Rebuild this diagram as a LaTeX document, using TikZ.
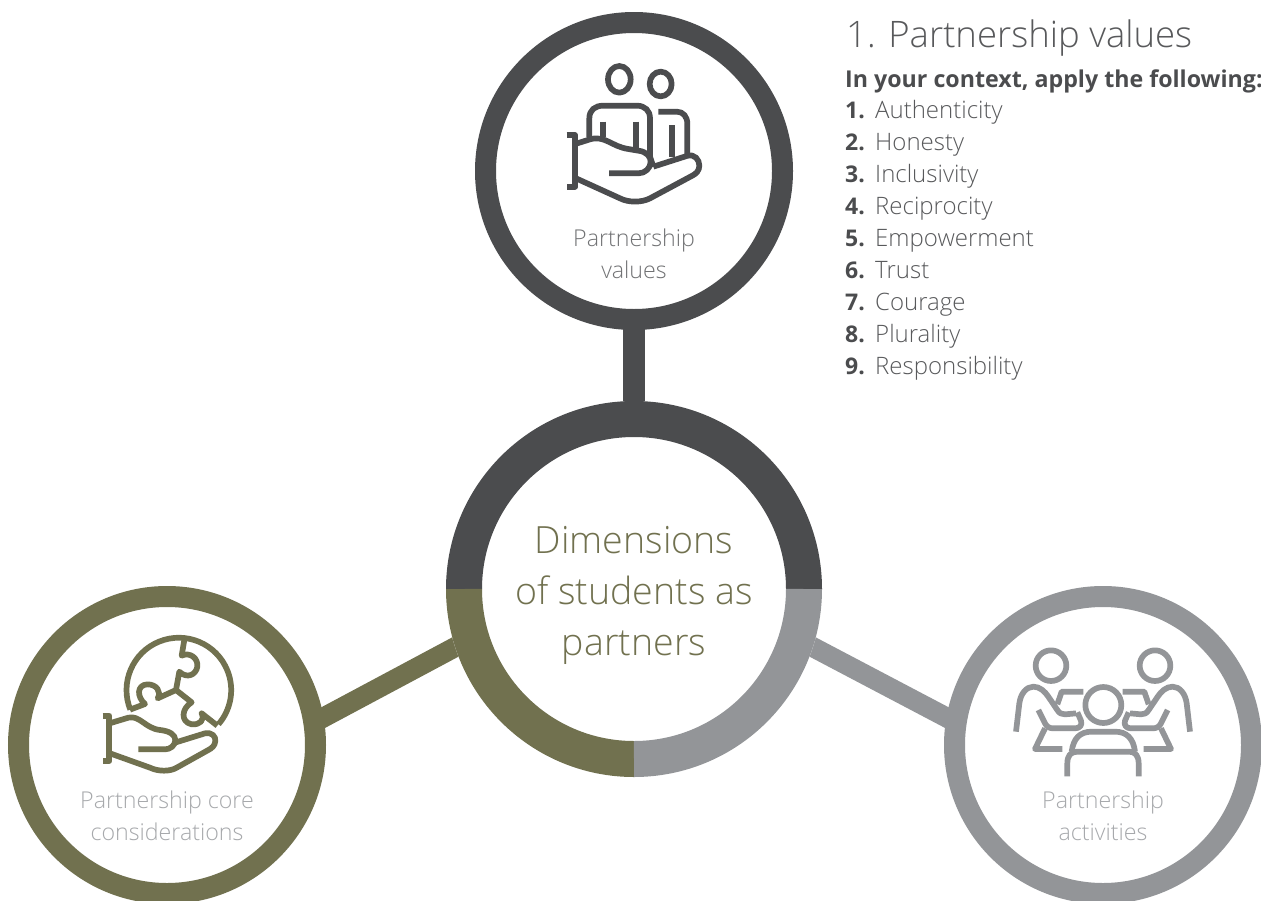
\documentclass[tikz,border=0pt]{standalone}
\usepackage{fontspec}
\setmainfont[UprightFont={Open Sans Light},BoldFont={Open Sans Bold}]{Open Sans}
\usetikzlibrary{backgrounds}
\definecolor{dark}{HTML}{4B4C4E}
\definecolor{olive}{HTML}{71714F}
\definecolor{midgrey}{HTML}{939598}
\definecolor{txtgrey}{HTML}{58595B}
\definecolor{ltgrey}{HTML}{A7A9AC}
\newcommand{\fs}[2]{\fontsize{#1}{#2}\selectfont}
\tikzset{
  ringnode/.style={circle,draw=#1,line width=21pt,fill=white,minimum size=297pt,inner sep=0pt},
  linknode/.style={line width=#1,shorten >=-4pt,shorten <=-4pt},
  hubring/.style={line width=36pt,line cap=butt},
  iconline/.style={line width=5.7pt,line cap=butt,line join=round,draw=#1},
  ringlabel/.style={align=center,font=\fs{23.2}{32},text=#1},
  listitem/.style={anchor=base west,font=\fs{24}{28},text=txtgrey,inner sep=0pt},
  listnum/.style={anchor=base west,font=\fs{23}{28}\bfseries,text=dark,inner sep=0pt}
}
\begin{document}
\begin{tikzpicture}[x=1pt,y=-1pt]
\useasboundingbox (0,0) rectangle (1261,900);
% nodes
\node[circle,fill=white,minimum size=376pt,inner sep=0pt,outer sep=0pt] (hub) at (634,589) {};
\node[ringnode=dark] (values) at (634,171) {};
\node[ringnode=olive] (core) at (167,745) {};
\node[ringnode=midgrey] (activities) at (1103,745) {};
% connectors
\begin{scope}[on background layer]
\draw[linknode=22pt,dark] (values.south) -- (hub.north);
\draw[linknode=20pt,olive] (hub.198.4) -- (core.10);
\draw[linknode=20pt,midgrey] (hub.-18.4) -- (activities.170);
\end{scope}
% hub ring
\draw[hubring,dark] (464,589) arc[start angle=180,delta angle=180,radius=170];
\draw[hubring,olive] (634,759) arc[start angle=90,delta angle=90,radius=170];
\draw[hubring,midgrey] (804,589) arc[start angle=0,delta angle=90,radius=170];
% texts
\node[align=center,font=\fs{37.5}{51},text=olive] (hubtext) at (634,595) {Dimensions\\of students as\\partners};
\node[ringlabel=txtgrey!85!white] (valuestext) at (634,254) {Partnership\\values};
\node[ringlabel=ltgrey] (coretext) at (167,816) {Partnership core\\considerations};
\node[ringlabel=ltgrey] (acttext) at (1103,816) {Partnership\\activities};
\node[anchor=base west,font=\fs{36.5}{44},text=txtgrey,inner sep=0pt] (title) at (846,47) {1. Partnership values};
\node[anchor=base west,font=\fs{23.2}{28}\bfseries,text=dark,inner sep=0pt] (intro) at (845,87) {In your context, apply the following:};
\foreach \n/\t [count=\i from 0] in {1/Authenticity,2/Honesty,3/Inclusivity,4/Reciprocity,5/Empowerment,6/Trust,7/Courage,8/Plurality,9/Responsibility}{
  \node[listnum] (num\n) at (845,118.5+32*\i) {\n.};
  \node[listitem] (item\n) at (875,118.5+32*\i) {\t};
}
% icon: people on hand
\begin{scope}[shift={(540,50)},x=0.33333pt,y=-0.33333pt]
\begin{scope}[iconline=dark]
\draw (238,88) ellipse[x radius=34,y radius=40];
\draw (362,102) ellipse[x radius=33,y radius=37];
\draw (148,262) -- (148,205) .. controls (148,180) and (165,167) .. (190,167) -- (290,167) .. controls (315,167) and (330,182) .. (330,205) -- (330,320) -- (340,350);
\draw (190,215) -- (190,262);
\draw (287,215) -- (287,297);
\draw (355,185) -- (410,185) .. controls (430,185) and (442,200) .. (442,222) -- (442,315);
\draw (395,225) -- (395,322);
\draw (112,280) -- (150,268) .. controls (195,255) and (215,290) .. (265,297) -- (295,302) .. controls (320,305) and (332,320) .. (332,335) .. controls (332,355) and (315,370) .. (295,370) -- (207,370);
\draw (340,350) -- (440,318) .. controls (465,310) and (478,330) .. (478,347) .. controls (478,362) and (468,372) .. (455,378) -- (330,445) .. controls (305,458) and (265,458) .. (240,445) -- (108,385);
\draw (80,255) -- (105,255) -- (105,410) -- (80,410);
\end{scope}
\end{scope}
% icon: puzzle globe on hand
\begin{scope}[shift={(90,625)},x=0.33333pt,y=-0.33333pt]
\begin{scope}[iconline=olive]
\draw (121,254) arc[start angle=158,end angle=400.8,radius=157];
\draw (283,44) -- (275,92) .. controls (300,80) and (325,100) .. (322,125) .. controls (318,150) and (290,162) .. (268,140) -- (258,195);
\draw (120,254) -- (165,237) .. controls (140,215) and (140,180) .. (172,178) .. controls (200,178) and (215,200) .. (203,220) -- (258,195);
\draw (258,195) -- (305,232) .. controls (275,250) and (270,290) .. (305,298) .. controls (330,300) and (345,285) .. (335,265) -- (382,302);
\draw (62,294) -- (115,278) .. controls (150,270) and (165,310) .. (210,315) .. controls (240,318) and (256,330) .. (256,345) .. controls (256,362) and (240,373) .. (225,373) -- (145,373);
\draw (258,352) -- (345,325) .. controls (365,320) and (378,335) .. (376,348) .. controls (375,362) and (365,370) .. (355,375) -- (260,428) .. controls (240,440) and (205,440) .. (180,428) -- (60,385);
\draw (38,272) -- (58,272) -- (58,408) -- (38,408);
\end{scope}
\end{scope}
% icon: three people at table
\foreach \ox/\xs in {1000/0.33333,1206/-0.33333}{
\begin{scope}[shift={(\ox,635)},x=\xs pt,y=-0.33333pt]
\begin{scope}[iconline=midgrey]
\draw (153,92) circle[x radius=46,y radius=46];
\draw (48,290) -- (58,205) .. controls (62,175) and (80,155) .. (100,155) .. controls (120,155) and (135,170) .. (145,185) -- (172,225) .. controls (178,235) and (185,238) .. (195,238) -- (228,235);
\draw (250,170) -- (185,170) -- (172,208);
\draw (115,225) -- (135,265) .. controls (140,275) and (148,280) .. (160,280) -- (225,280) .. controls (240,280) and (247,270) .. (243,257) -- (232,232);
\draw (135,280) -- (105,342) -- (187,342);
\end{scope}
\end{scope}
}
\begin{scope}[shift={(1000,635)},x=0.33333pt,y=-0.33333pt]
\begin{scope}[iconline=midgrey]
\draw (310,210) circle[x radius=54,y radius=54];
\draw (202,424) -- (202,385) .. controls (202,362) and (212,350) .. (232,350) -- (388,350) .. controls (405,350) and (416,362) .. (416,385) -- (416,424);
\draw (215,350) .. controls (220,310) and (240,290) .. (275,290) -- (345,290) .. controls (380,290) and (400,310) .. (405,350);
\end{scope}
\end{scope}
\end{tikzpicture}
\end{document}
